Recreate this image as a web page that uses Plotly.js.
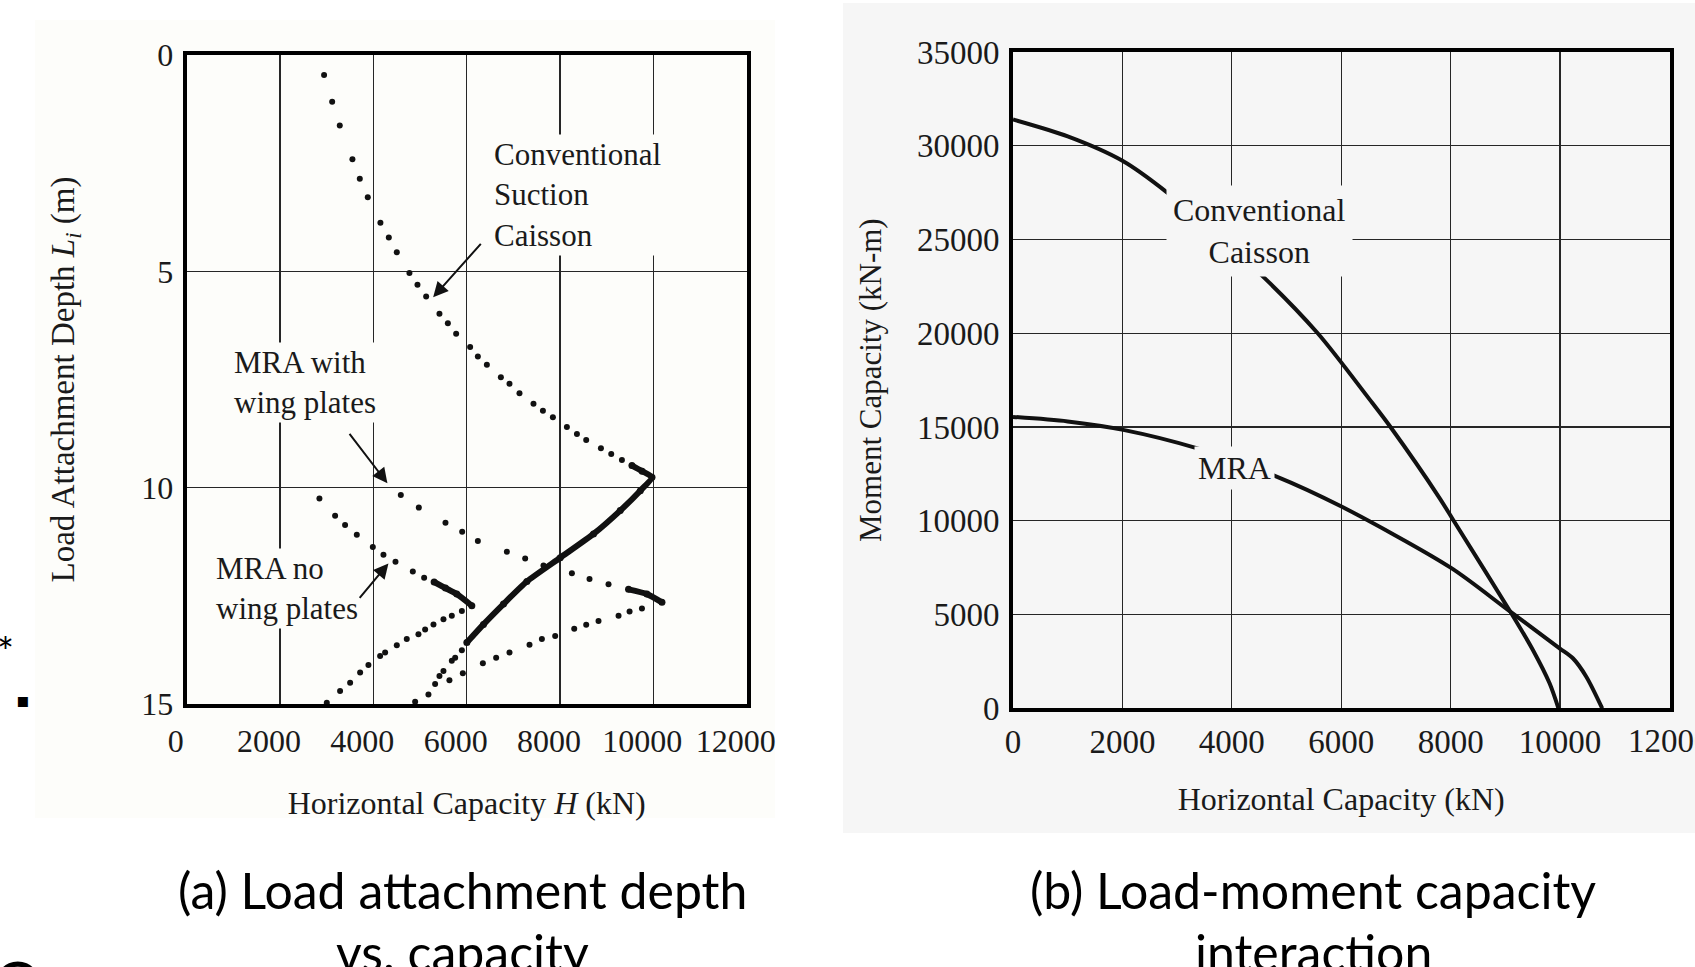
<!DOCTYPE html>
<html>
<head>
<meta charset="utf-8">
<script src="https://cdn.plot.ly/plotly-3.0.1.min.js"></script>
<style>
  html, body { margin: 0; padding: 0; background: #ffffff; }
  #chart { width: 1695px; height: 967px; }
</style>
</head>
<body>
<div id="chart"></div>
<script>
// ---------- (a) Load attachment depth vs. capacity ----------
// Conventional suction caisson
const convDotH = [2944, 3117, 3280, 3551, 3709, 3880, 4151, 4331, 4502, 4773, 4945, 5131, 5416, 5596, 5774, 6074, 6239, 6432, 6732, 6917, 7131, 7431, 7633, 7847, 8147, 8362, 8561, 8876, 9097, 9326];
const convDotL = [0.46, 1.08, 1.63, 2.41, 2.86, 3.29, 3.88, 4.22, 4.56, 5.04, 5.31, 5.58, 5.98, 6.20, 6.44, 6.75, 6.97, 7.16, 7.45, 7.60, 7.82, 8.06, 8.22, 8.37, 8.60, 8.76, 8.90, 9.09, 9.22, 9.36];
const convDenseH = [9541, 9760, 9970, 9720, 9290, 8717, 8004, 7289, 6788, 6359, 6003];
const convDenseL = [9.49, 9.62, 9.76, 10.07, 10.53, 11.07, 11.62, 12.17, 12.69, 13.16, 13.58];
const convTailH = [5896, 5753, 5681, 5502, 5416, 5323, 5180, 4895];
const convTailL = [13.76, 13.93, 14.00, 14.24, 14.35, 14.54, 14.78, 14.95];

// MRA with wing plates
const wingOutH = [4588, 4974, 5545, 5903, 6239, 6861, 7253, 7645, 8254, 8632, 9039];
const wingOutL = [10.17, 10.46, 10.81, 11.02, 11.23, 11.48, 11.64, 11.80, 11.98, 12.11, 12.23];
const wingDenseH = [9468, 9862, 10184];
const wingDenseL = [12.35, 12.46, 12.65];
const wingBackH = [9755, 9490, 9254, 8825, 8561, 8304, 7896, 7611, 7346, 6917, 6631, 6346, 5917, 5630];
const wingBackL = [12.79, 12.86, 12.96, 13.08, 13.17, 13.26, 13.43, 13.50, 13.63, 13.81, 13.93, 14.06, 14.29, 14.45];

// MRA no wing plates
const noWingOutH = [2844, 3180, 3394, 3645, 3988, 4216, 4474, 4845, 5088];
const noWingOutL = [10.25, 10.65, 10.86, 11.09, 11.37, 11.55, 11.71, 11.94, 12.08];
const noWingDenseH = [5302, 5545, 5788, 6110];
const noWingDenseL = [12.18, 12.32, 12.46, 12.73];
const noWingBackH = [5896, 5681, 5502, 5288, 5109, 4966, 4716, 4502, 4252, 4145, 3894, 3716, 3502, 3287, 3002];
const noWingBackL = [12.85, 12.96, 13.04, 13.16, 13.28, 13.39, 13.50, 13.64, 13.81, 13.89, 14.10, 14.27, 14.51, 14.70, 14.97];

// ---------- (b) Load-moment capacity interaction ----------
const caissonH = [0, 1000, 2000, 2820, 4470, 5570, 6521, 6900, 7800, 8055, 9108, 9503, 9808, 9970];
const caissonM = [31400, 30500, 29200, 27500, 23300, 20000, 16460, 15000, 11200, 10000, 5070, 3111, 1334, 0];
const mraH = [0, 1000, 2015, 3355, 4785, 6004, 8000, 9047, 9991, 10234, 10479, 10770];
const mraM = [15540, 15300, 14850, 13875, 12400, 10760, 7500, 5245, 3200, 2668, 1686, 0];

// tick labels
const xTicksA = [0, 2000, 4000, 6000, 8000, 10000, 12000];
const yTicksA = [0, 5, 10, 15];
const xTicksB = [0, 2000, 4000, 6000, 8000, 10000];
const xTickBLast = 12000;
const yTicksB = [0, 5000, 10000, 15000, 20000, 25000, 30000, 35000];

const SERIF = 'Liberation Serif, Times New Roman, serif';
const SANS = 'Lato, Carlito, Calibri, sans-serif';
const INK = '#111111';
const TXT = '#1a1a1a';
const BG_A = '#fdfdfa';
const BG_B = '#f6f6f6';

function dots(x, y, xa, ya) {
  return { x: x, y: y, xaxis: xa, yaxis: ya, type: 'scatter', mode: 'markers',
           marker: { size: 6, color: INK }, hoverinfo: 'skip', showlegend: false };
}
function dense(x, y, xa, ya) {
  return { x: x, y: y, xaxis: xa, yaxis: ya, type: 'scatter', mode: 'lines+markers',
           line: { width: 6, color: INK, shape: 'spline', smoothing: 0.6 }, marker: { size: 7, color: INK },
           hoverinfo: 'skip', showlegend: false };
}
function curve(x, y) {
  return { x: x, y: y, xaxis: 'x2', yaxis: 'y2', type: 'scatter', mode: 'lines',
           line: { width: 4, color: INK, shape: 'spline', smoothing: 0.8 },
           hoverinfo: 'skip', showlegend: false };
}

const traces = [
  dots(convDotH, convDotL, 'x', 'y'),
  dense(convDenseH, convDenseL, 'x', 'y'),
  dots(convTailH, convTailL, 'x', 'y'),
  dots(wingOutH, wingOutL, 'x', 'y'),
  dense(wingDenseH, wingDenseL, 'x', 'y'),
  dots(wingBackH, wingBackL, 'x', 'y'),
  dots(noWingOutH, noWingOutL, 'x', 'y'),
  dense(noWingDenseH, noWingDenseL, 'x', 'y'),
  dots(noWingBackH, noWingBackL, 'x', 'y'),
  curve(caissonH, caissonM),
  curve(mraH, mraM)
];

const W = 1695, H = 967;
const px = v => v / W;
const py = v => 1 - v / H;

function axisBase(extra) {
  return Object.assign({
    showgrid: true, gridcolor: '#262626', gridwidth: 1.3,
    showline: true, linecolor: '#000000', linewidth: 4, mirror: true,
    zeroline: false, ticks: '', fixedrange: true
  }, extra);
}

const layout = {
  width: W, height: H,
  margin: { l: 0, r: 0, t: 0, b: 0 },
  paper_bgcolor: '#ffffff',
  plot_bgcolor: 'rgba(0,0,0,0)',
  showlegend: false,
  xaxis: axisBase({
    domain: [px(186.7), px(746.7)], anchor: 'y', range: [0, 12000],
    tickvals: xTicksA, ticktext: xTicksA.map(String),
    tickfont: { family: SERIF, size: 32, color: TXT },
    ticklabelshift: -11, ticklabelstandoff: 6,
    title: { text: 'Horizontal Capacity <i>H</i> (kN)', font: { family: SERIF, size: 32, color: TXT }, standoff: 34 }
  }),
  yaxis: axisBase({
    domain: [py(704), py(55)], anchor: 'x', range: [15, 0],
    tickvals: yTicksA, ticktext: yTicksA.map(String),
    tickfont: { family: SERIF, size: 32, color: TXT },
    ticklabelstandoff: 3,
    title: { text: 'Load Attachment Depth <i>L</i><sub><i>i</i></sub> (m)', font: { family: SERIF, size: 33, color: TXT }, standoff: 58 }
  }),
  xaxis2: axisBase({
    domain: [px(1013), px(1669.5)], anchor: 'y2', range: [0, 12000],
    tickvals: xTicksB, ticktext: xTicksB.map(String),
    tickfont: { family: SERIF, size: 33, color: TXT },
    ticklabelstandoff: 1,
    title: { text: 'Horizontal Capacity (kN)', font: { family: SERIF, size: 32, color: TXT }, standoff: 30 }
  }),
  yaxis2: axisBase({
    domain: [py(708.3), py(52)], anchor: 'x2', range: [0, 35000],
    tickvals: yTicksB, ticktext: yTicksB.map(String),
    tickfont: { family: SERIF, size: 33, color: TXT },
    ticklabelstandoff: 3,
    title: { text: 'Moment Capacity (kN-m)', font: { family: SERIF, size: 31, color: TXT }, standoff: 27 }
  }),
  shapes: [
    { type: 'rect', xref: 'paper', yref: 'paper', layer: 'below',
      x0: px(35), x1: px(775), y0: py(818), y1: py(20), fillcolor: BG_A, line: { width: 0 } },
    { type: 'rect', xref: 'paper', yref: 'paper', layer: 'below',
      x0: px(843), x1: px(1695), y0: py(833), y1: py(3), fillcolor: BG_B, line: { width: 0 } }
  ],
  annotations: [
    // (a) labels
    { xref: 'x', yref: 'y', x: 6518, y: 3.24, xanchor: 'left', yanchor: 'middle', align: 'left',
      text: 'Conventional<br>Suction<br>Caisson', showarrow: false, bgcolor: BG_A, borderpad: 2,
      font: { family: SERIF, size: 31, color: TXT } },
    { xref: 'x', yref: 'y', x: 950, y: 7.58, xanchor: 'left', yanchor: 'middle', align: 'left',
      text: 'MRA with<br>wing plates', showarrow: false, bgcolor: BG_A, borderpad: 2,
      font: { family: SERIF, size: 31, color: TXT } },
    { xref: 'x', yref: 'y', x: 564, y: 12.34, xanchor: 'left', yanchor: 'middle', align: 'left',
      text: 'MRA no<br>wing plates', showarrow: false, bgcolor: BG_A, borderpad: 2,
      font: { family: SERIF, size: 31, color: TXT } },
    // (a) arrows
    { xref: 'x', yref: 'y', axref: 'x', ayref: 'y', x: 5281, y: 5.6, ax: 6331, ay: 4.33, text: '',
      showarrow: true, arrowhead: 2, arrowsize: 1.5, arrowwidth: 2, arrowcolor: INK, standoff: 0 },
    { xref: 'x', yref: 'y', axref: 'x', ayref: 'y', x: 4301, y: 9.9, ax: 3465, ay: 8.72, text: '',
      showarrow: true, arrowhead: 2, arrowsize: 1.5, arrowwidth: 2, arrowcolor: INK, standoff: 0 },
    { xref: 'x', yref: 'y', axref: 'x', ayref: 'y', x: 4323, y: 11.75, ax: 3680, ay: 12.58, text: '',
      showarrow: true, arrowhead: 2, arrowsize: 1.5, arrowwidth: 2, arrowcolor: INK, standoff: 0 },
    // (b) labels
    { xref: 'x2', yref: 'y2', x: 4502, y: 25470, xanchor: 'center', yanchor: 'middle', align: 'center',
      text: 'Conventional<br>Caisson', showarrow: false, bgcolor: BG_B, borderpad: 6,
      font: { family: SERIF, size: 32, color: TXT } },
    { xref: 'x2', yref: 'y2', x: 4055, y: 12823, xanchor: 'center', yanchor: 'middle', align: 'center',
      text: 'MRA', showarrow: false, bgcolor: BG_B, borderpad: 3,
      font: { family: SERIF, size: 32, color: TXT } },
    // (b) last x tick label, running off the right edge as in the original
    { xref: 'x2', yref: 'paper', x: xTickBLast, y: py(741), xanchor: 'center', yanchor: 'middle',
      text: String(xTickBLast), showarrow: false, font: { family: SERIF, size: 33, color: TXT } },
    // captions
    { xref: 'paper', yref: 'paper', x: px(462), y: py(890), xanchor: 'center', yanchor: 'middle',
      text: '(a) Load attachment depth', showarrow: false, font: { family: SANS, size: 50, color: '#000' } },
    { xref: 'paper', yref: 'paper', x: px(462), y: py(952), xanchor: 'center', yanchor: 'middle',
      text: 'vs. capacity', showarrow: false, font: { family: SANS, size: 50, color: '#000' } },
    { xref: 'paper', yref: 'paper', x: px(1313), y: py(890), xanchor: 'center', yanchor: 'middle',
      text: '(b) Load-moment capacity', showarrow: false, font: { family: SANS, size: 50, color: '#000' } },
    { xref: 'paper', yref: 'paper', x: px(1313), y: py(952), xanchor: 'center', yanchor: 'middle',
      text: 'interaction', showarrow: false, font: { family: SANS, size: 50, color: '#000' } },
    // slide fragments on the left edge
    { xref: 'paper', yref: 'paper', x: px(5), y: py(652), xanchor: 'center', yanchor: 'middle',
      text: '*', showarrow: false, font: { family: SANS, size: 40, color: '#000' } },
    { xref: 'paper', yref: 'paper', x: px(23), y: py(700), xanchor: 'center', yanchor: 'middle',
      text: '▪', showarrow: false, font: { family: 'DejaVu Sans, sans-serif', size: 20, color: '#000' } },
    { xref: 'paper', yref: 'paper', x: px(18), y: py(944), xanchor: 'center', yanchor: 'top',
      text: 'O', showarrow: false, font: { family: SANS, size: 62, color: '#000' } }
  ]
};

Plotly.newPlot('chart', traces, layout, { displayModeBar: false, staticPlot: true });
</script>
</body>
</html>
